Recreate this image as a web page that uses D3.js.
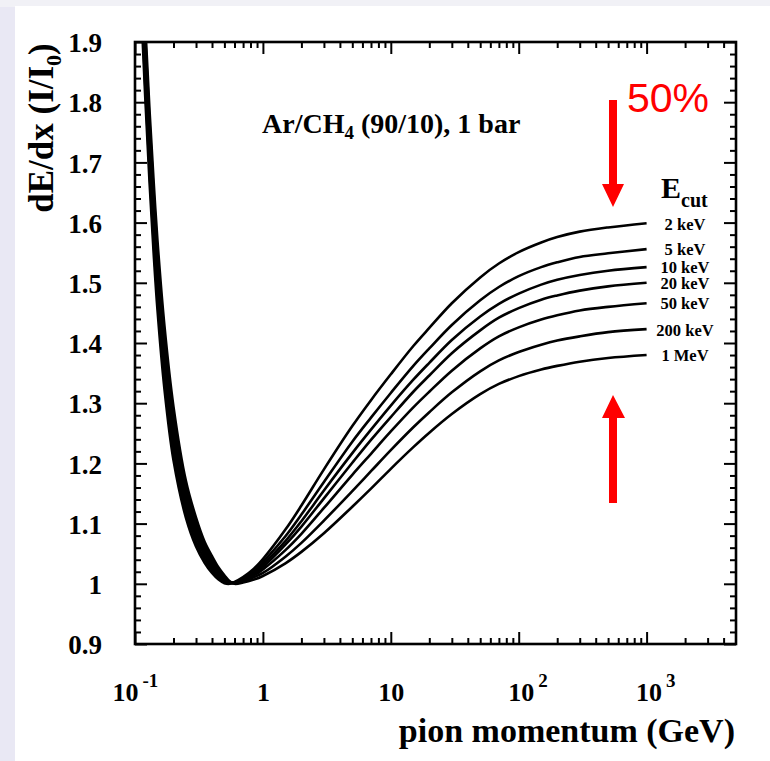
<!DOCTYPE html>
<html>
<head>
<meta charset="utf-8">
<script src="https://cdn.jsdelivr.net/npm/d3@7"></script>
<style>
body { margin: 0; background: #fff; }
svg { display: block; }
text { font-family: "Liberation Serif", "Times New Roman", serif; font-weight: bold; fill: #000; }
</style>
</head>
<body>
<svg id="chart" width="770" height="761"></svg>
<script>
// pion momentum (GeV) grid
var momentum = [0.11, 0.12, 0.13, 0.14, 0.15, 0.17, 0.2, 0.25, 0.3, 0.35, 0.4, 0.45, 0.5, 0.55, 0.6,
    0.7, 0.85, 1, 1.5, 2, 3, 5, 7, 10, 15, 20, 30, 50, 70, 100, 150, 200, 300, 500, 1000];
// dE/dx (I/I0) for each energy cut
var dedx2keV = [1.994, 1.812, 1.666, 1.548, 1.454, 1.323, 1.205, 1.110, 1.062, 1.035, 1.018, 1.007, 1.001, 1.0, 1.003,
    1.011, 1.025, 1.041, 1.09, 1.13, 1.19, 1.262, 1.305, 1.348, 1.395, 1.425, 1.466, 1.509, 1.532, 1.551, 1.567, 1.576, 1.585, 1.592, 1.599];
var dedx5keV = [2.016, 1.832, 1.686, 1.568, 1.473, 1.341, 1.220, 1.120, 1.070, 1.041, 1.023, 1.010, 1.003, 1.001, 1.002,
    1.009, 1.021, 1.036, 1.079, 1.115, 1.169, 1.236, 1.276, 1.317, 1.362, 1.391, 1.43, 1.471, 1.493, 1.511, 1.526, 1.534, 1.543, 1.549, 1.556];
var dedx10keV = [2.038, 1.852, 1.706, 1.588, 1.492, 1.358, 1.235, 1.130, 1.078, 1.047, 1.027, 1.014, 1.005, 1.001, 1.002,
    1.008, 1.019, 1.032, 1.071, 1.104, 1.155, 1.217, 1.256, 1.296, 1.339, 1.367, 1.405, 1.444, 1.465, 1.482, 1.497, 1.505, 1.513, 1.520, 1.526];
var dedx20keV = [2.06, 1.872, 1.726, 1.608, 1.512, 1.376, 1.250, 1.141, 1.086, 1.053, 1.032, 1.017, 1.008, 1.002, 1.002,
    1.007, 1.017, 1.028, 1.065, 1.095, 1.142, 1.201, 1.239, 1.277, 1.319, 1.346, 1.383, 1.421, 1.442, 1.458, 1.472, 1.479, 1.487, 1.494, 1.500];
var dedx50keV = [2.081, 1.892, 1.745, 1.627, 1.531, 1.393, 1.264, 1.151, 1.094, 1.058, 1.037, 1.020, 1.010, 1.003, 1.001,
    1.006, 1.014, 1.024, 1.056, 1.083, 1.126, 1.181, 1.216, 1.253, 1.293, 1.319, 1.354, 1.391, 1.411, 1.426, 1.439, 1.446, 1.454, 1.46, 1.466];
var dedx200keV = [2.103, 1.912, 1.765, 1.647, 1.550, 1.410, 1.279, 1.161, 1.102, 1.064, 1.041, 1.024, 1.012, 1.003, 1.001,
    1.004, 1.011, 1.018, 1.045, 1.068, 1.105, 1.154, 1.187, 1.222, 1.26, 1.285, 1.318, 1.353, 1.371, 1.385, 1.397, 1.404, 1.411, 1.418, 1.423];
var dedx1MeV = [2.125, 1.932, 1.785, 1.667, 1.569, 1.428, 1.294, 1.171, 1.110, 1.070, 1.046, 1.027, 1.014, 1.004, 1.0,
    1.002, 1.007, 1.013, 1.034, 1.053, 1.084, 1.128, 1.158, 1.191, 1.227, 1.251, 1.282, 1.315, 1.332, 1.345, 1.356, 1.362, 1.369, 1.375, 1.380];

var cutLabels = ["2 keV", "5 keV", "10 keV", "20 keV", "50 keV", "200 keV", "1 MeV"];
var cutSeries = [dedx2keV, dedx5keV, dedx10keV, dedx20keV, dedx50keV, dedx200keV, dedx1MeV];
var labelY = [1.598, 1.556, 1.526, 1.500, 1.467, 1.422, 1.380];

var yTicks = [0.9, 1, 1.1, 1.2, 1.3, 1.4, 1.5, 1.6, 1.7, 1.8, 1.9];
var yTickLabels = ["0.9", "1", "1.1", "1.2", "1.3", "1.4", "1.5", "1.6", "1.7", "1.8", "1.9"];
var xTicks = [0.1, 1, 10, 100, 1000];
var xTickBase = ["10", "1", "10", "10", "10"];
var xTickExp = ["-1", "", "", "2", "3"];

var plotLeft = 135, plotRight = 736, plotTop = 42, plotBottom = 644;
var svg = d3.select("#chart");

// slide background
svg.append("rect").attr("width", 770).attr("height", 761).attr("fill", "#e9e8f4");
svg.append("rect").attr("width", 770).attr("height", 7).attr("fill", "#f1f1f6");
svg.append("rect").attr("x", 15).attr("y", 6).attr("width", 755).attr("height", 755).attr("fill", "#fff");

var x = d3.scaleLog().domain([0.1, 5000]).range([plotLeft, plotRight]);
var y = d3.scaleLinear().domain([0.9, 1.9]).range([plotBottom, plotTop]);

var yMinor = d3.range(0.92, 1.9, 0.02).filter(function (v) { return Math.abs(v * 10 - Math.round(v * 10)) > 0.01; });
var xMinor = [];
for (var e = -1; e <= 3; e++) {
    for (var m = 2; m <= 9; m++) {
        var v = m * Math.pow(10, e);
        if (v < 5000) xMinor.push(v);
    }
}

function styleAxis(g) {
    g.select(".domain").remove();
    g.selectAll("line").attr("stroke", "#000").attr("stroke-width", 2);
}

// left axis with labels
svg.append("g").attr("transform", "translate(" + plotLeft + ",0)")
    .call(d3.axisLeft(y).tickValues(yTicks).tickSize(-12).tickPadding(33)
        .tickFormat(function (d, i) { return yTickLabels[i]; }))
    .call(styleAxis)
    .selectAll("text").attr("font-size", 27).attr("dy", "0.36em")
    .style("font-family", "Liberation Serif").style("font-weight", "bold").attr("fill", "#000");
svg.append("g").attr("transform", "translate(" + plotLeft + ",0)")
    .call(d3.axisLeft(y).tickValues(yMinor).tickSize(-6).tickFormat(""))
    .call(styleAxis);
// right axis
svg.append("g").attr("transform", "translate(" + plotRight + ",0)")
    .call(d3.axisRight(y).tickValues(yTicks).tickSize(-12).tickFormat(""))
    .call(styleAxis);
svg.append("g").attr("transform", "translate(" + plotRight + ",0)")
    .call(d3.axisRight(y).tickValues(yMinor).tickSize(-6).tickFormat(""))
    .call(styleAxis);
// bottom axis
var bottomAxis = svg.append("g").attr("transform", "translate(0," + plotBottom + ")")
    .call(d3.axisBottom(x).tickValues(xTicks).tickSize(-12).tickFormat(""))
    .call(styleAxis);
svg.append("g").attr("transform", "translate(0," + plotBottom + ")")
    .call(d3.axisBottom(x).tickValues(xMinor).tickSize(-6).tickFormat(""))
    .call(styleAxis);
// top axis
svg.append("g").attr("transform", "translate(0," + plotTop + ")")
    .call(d3.axisTop(x).tickValues(xTicks).tickSize(-12).tickFormat(""))
    .call(styleAxis);
svg.append("g").attr("transform", "translate(0," + plotTop + ")")
    .call(d3.axisTop(x).tickValues(xMinor).tickSize(-6).tickFormat(""))
    .call(styleAxis);

// x tick labels with exponents
bottomAxis.selectAll(".tick").each(function (d, i) {
    var g = d3.select(this);
    g.select("text").remove();
    if (xTickExp[i] === "") {
        g.append("text").attr("x", 0).attr("y", 57).attr("text-anchor", "middle")
            .attr("font-size", 26).text(xTickBase[i]);
    } else {
        var shift = xTickExp[i].charAt(0) === "-" ? -12 : 0;
        g.append("text").attr("x", 15 + shift).attr("y", 57).attr("text-anchor", "end")
            .attr("font-size", 26).text(xTickBase[i]);
        g.append("text").attr("x", 19 + shift).attr("y", 43).attr("text-anchor", "start")
            .attr("font-size", 19).text(xTickExp[i]);
    }
});

// frame
svg.append("rect").attr("x", plotLeft).attr("y", plotTop)
    .attr("width", plotRight - plotLeft).attr("height", plotBottom - plotTop)
    .attr("fill", "none").attr("stroke", "#000").attr("stroke-width", 2.6);

// curves
svg.append("clipPath").attr("id", "plotClip").append("rect")
    .attr("x", plotLeft).attr("y", plotTop).attr("width", plotRight - plotLeft).attr("height", plotBottom - plotTop);

var line = d3.line()
    .x(function (d) { return x(d[0]); })
    .y(function (d) { return y(d[1]); })
    .curve(d3.curveCatmullRom.alpha(0.5));

svg.append("g").attr("clip-path", "url(#plotClip)")
    .selectAll("path").data(cutSeries).enter().append("path")
    .attr("d", function (vals) { return line(momentum.map(function (p, i) { return [p, vals[i]]; })); })
    .attr("fill", "none").attr("stroke", "#000").attr("stroke-width", 2.6);

// energy cut labels
svg.selectAll(".cutLabel").data(cutLabels).enter().append("text")
    .attr("class", "cutLabel")
    .attr("x", 685).attr("y", function (d, i) { return y(labelY[i]) + 6; })
    .attr("text-anchor", "middle").attr("font-size", 16.5).text(function (d) { return d; });

var ecut = svg.append("text").attr("x", 661).attr("y", 198).attr("font-size", 30);
ecut.append("tspan").text("E");
ecut.append("tspan").attr("dy", 9).attr("font-size", 20).text("cut");

// gas annotation
var gas = svg.append("text").attr("x", 262).attr("y", 133).attr("font-size", 28);
gas.append("tspan").text("Ar/CH");
gas.append("tspan").attr("dy", 6).attr("font-size", 19).text("4");
gas.append("tspan").attr("dy", -6).text(" (90/10), 1 bar");

// axis titles
svg.append("text").attr("x", 735).attr("y", 742).attr("text-anchor", "end")
    .attr("font-size", 34).text("pion momentum (GeV)");
var yt = svg.append("text").attr("transform", "translate(53,128) rotate(-90)")
    .attr("text-anchor", "middle").attr("font-size", 35);
yt.append("tspan").text("dE/dx (I/I");
yt.append("tspan").attr("dy", 8).attr("font-size", 22).text("0");
yt.append("tspan").attr("dy", -8).text(")");

// red arrows and 50%
var red = "#ff0000";
svg.append("path")
    .attr("d", "M609,100 L617,100 L617,184 L624,184 L613,207 L602,184 L609,184 Z")
    .attr("fill", red);
svg.append("path")
    .attr("d", "M609,503 L617,503 L617,418 L625,418 L613,395 L602,418 L609,418 Z")
    .attr("fill", red);
svg.append("text").attr("x", 627).attr("y", 112).attr("font-size", 41)
    .style("font-family", "Liberation Sans, Arial, sans-serif").style("font-weight", "normal")
    .style("fill", red).text("50%");
</script>
</body>
</html>
